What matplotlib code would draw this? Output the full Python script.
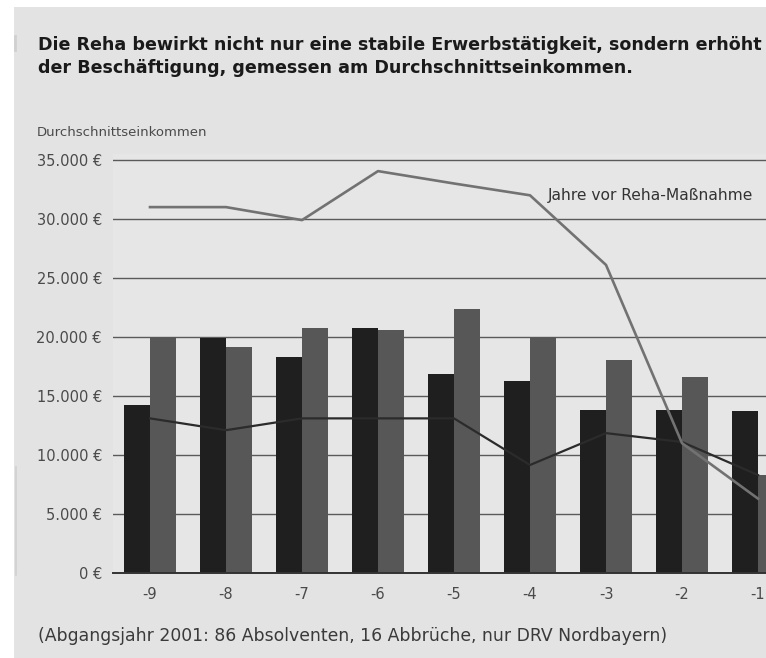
import matplotlib.pyplot as plt
from matplotlib.patches import Rectangle
from matplotlib.lines import Line2D

# data
years = ["-9", "-8", "-7", "-6", "-5", "-4", "-3", "-2", "-1"]
bars_dark = [14200, 19900, 18300, 20750, 16850, 16250, 13800, 13800, 13700]
bars_grey = [20000, 19150, 20750, 20600, 22350, 20000, 18050, 16600, 8300]
line_light = [31000, 31000, 29900, 34050, 33000, 32000, 26100, 11000, 6300]
line_dark = [13100, 12100, 13100, 13100, 13100, 9150, 11850, 11100, 8300]
yticks = [0, 5000, 10000, 15000, 20000, 25000, 30000, 35000]

bg = "#e3e3e3"

fig = plt.figure(figsize=(7.66, 6.58), dpi=100, facecolor="white")
# grey page area (white strip at top/left)
fig.patches.append(Rectangle((14 / 766, 0), 1, 1 - 7 / 658, transform=fig.transFigure,
                             facecolor=bg, edgecolor="none", zorder=-10))
# faint page marks on the left
fig.lines.append(Line2D([16 / 766, 16 / 766], [1 - 467 / 658, 1 - 575 / 658],
                        transform=fig.transFigure, color="#d0d0d0", lw=1.2))
fig.lines.append(Line2D([15 / 766, 15 / 766], [1 - 36 / 658, 1 - 50 / 658],
                        transform=fig.transFigure, color="#d0d0d0", lw=2))

ax = fig.add_axes([113 / 766, 85 / 658, 1 - 113 / 766, (573 - 154) / 658])
ax.set_facecolor("#e6e6e6")

x = list(range(len(years)))
w = 0.342
ax.bar(x, bars_dark, width=-w, align="edge", color="#1f1f1f", zorder=2)
ax.bar(x, bars_grey, width=w, align="edge", color="#575757", zorder=2)
ax.plot(x, line_dark, color="#2b2b2b", lw=1.6, zorder=3)
ax.plot(x, line_light, color="#727272", lw=1.9, zorder=4)

ax.set_xlim(-0.487, 8.105)
ax.set_ylim(0, 35500)
ax.set_yticks(yticks)
ax.set_yticklabels([f"{v:,} €".replace(",", ".") for v in yticks],
                   fontsize=10.5, color="#4a4a4a")
ax.set_xticks(x)
ax.set_xticklabels(years, fontsize=10.5, color="#4a4a4a")
ax.tick_params(axis="both", length=0)
ax.tick_params(axis="y", pad=8)
ax.tick_params(axis="x", pad=10)
for v in yticks[1:]:
    ax.axhline(v, color="#5a5a5a", lw=1.0, zorder=1)
for s in ["top", "right", "left"]:
    ax.spines[s].set_visible(False)
ax.spines["bottom"].set_color("#333333")
ax.spines["bottom"].set_linewidth(1.4)
ax.spines["bottom"].set_zorder(5)

ax.text(5.24, 32000, "Jahre vor Reha-Maßnahme", fontsize=11.2, color="#333333",
        ha="left", va="center", zorder=6)

fig.text(38 / 766, 1 - 45 / 658,
         "Die Reha bewirkt nicht nur eine stabile Erwerbstätigkeit, sondern erhöht",
         fontsize=12.6, fontweight="bold", color="#1a1a1a", va="center", ha="left")
fig.text(38 / 766, 1 - 68 / 658,
         "der Beschäftigung, gemessen am Durchschnittseinkommen.",
         fontsize=12.6, fontweight="bold", color="#1a1a1a", va="center", ha="left")
fig.text(37 / 766, 1 - 133 / 658, "Durchschnittseinkommen", fontsize=9.5,
         color="#4a4a4a", va="center", ha="left")
fig.text(38 / 766, 1 - 636 / 658,
         "(Abgangsjahr 2001: 86 Absolventen, 16 Abbrüche, nur DRV Nordbayern)",
         fontsize=12.4, color="#3a3a3a", va="center", ha="left")

fig.savefig("out.png", dpi=100, facecolor="white")
